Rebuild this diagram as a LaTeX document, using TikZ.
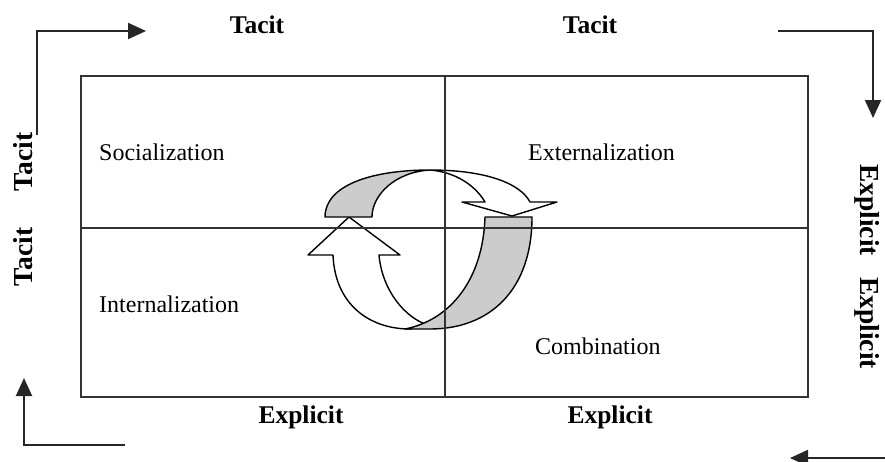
\documentclass[tikz,border=0pt]{standalone}
\usepackage{fontspec}
\setmainfont{Liberation Serif}
\usetikzlibrary{arrows.meta}
\begin{document}
\begin{tikzpicture}[x=1pt,y=-1pt,
  conn/.style={line width=2pt, draw=black!85, -{Triangle[length=18pt,width=16pt]}},
  gridline/.style={line width=1.2pt, draw=black!80},
  loopw/.style={draw=black, line width=1.4pt, fill=white, line join=round},
  loopg/.style={draw=black, line width=1.4pt, fill=black!20, line join=round},
  axislabel/.style={font=\fontsize{25.5}{30}\selectfont\bfseries, inner sep=0pt, anchor=base},
  raxislabel/.style={font=\fontsize{27.5}{32}\selectfont\bfseries, inner sep=0pt, anchor=base},
  quad/.style={font=\fontsize{24}{28}\selectfont, inner sep=0pt, anchor=base west}]
\useasboundingbox (0,0) rectangle (885,461);

% central loop
\draw[loopw] (379,255) -- (400,255) -- (349,217) -- (308,255) -- (333,255)
  .. controls (335,305) and (370,329) .. (410,329) -- (428,325)
  .. controls (405,318) and (382,290) .. (379,255) -- cycle;
\draw[loopg] (325,217) .. controls (325,185) and (372,170) .. (430,170)
  .. controls (395,172) and (372,195) .. (372,217) -- cycle;
\draw[loopw] (430,170) .. controls (485,170) and (520,183) .. (530,202)
  -- (557,202) -- (512,216) -- (462,202) -- (485,202)
  .. controls (475,185) and (455,172) .. (430,170) -- cycle;
\draw[loopg] (485,217) -- (532,217) .. controls (532,290) and (490,329) .. (430,329)
  -- (405,329) .. controls (450,320) and (483,280) .. (485,217) -- cycle;

% grid
\coordinate (bl) at (81,397);
\coordinate (tr) at (808,76);
\coordinate (mt) at (445,76);
\coordinate (mb) at (445,397);
\coordinate (ml) at (81,228);
\coordinate (mr) at (808,228);
\draw[gridline] (bl) rectangle (tr);
\draw[gridline] (mt) -- (mb);
\draw[gridline] (ml) -- (mr);

% quadrant labels
\node[quad] (soc) at (99,160) {Socialization};
\node[quad] (ext) at (528,160) {Externalization};
\node[quad] (int) at (99,312) {Internalization};
\node[quad] (com) at (535,354) {Combination};

% axis labels
\node[axislabel] (t1) at (257,33) {Tacit};
\node[axislabel] (t2) at (590,33) {Tacit};
\node[axislabel] (e1) at (301,423) {Explicit};
\node[axislabel] (e2) at (610,423) {Explicit};
\node[raxislabel, rotate=90] (t3) at (32,162) {Tacit};
\node[raxislabel, rotate=90] (t4) at (32,257) {Tacit};
\node[raxislabel, rotate=-90] (e3) at (860,210) {Explicit};
\node[raxislabel, rotate=-90] (e4) at (860,323) {Explicit};

% corner connectors
\coordinate (a1) at (37,135);
\coordinate (a2) at (146,31);
\coordinate (b1) at (778,31);
\coordinate (b2) at (873,118);
\coordinate (c1) at (890,458);
\coordinate (c2) at (790,458);
\coordinate (d1) at (125,445);
\coordinate (d2) at (24,378);
\draw[conn] (a1) |- (a2);
\draw[conn] (b1) -| (b2);
\draw[conn] (c1) -- (c2);
\draw[conn] (d1) -| (d2);
\end{tikzpicture}
\end{document}
